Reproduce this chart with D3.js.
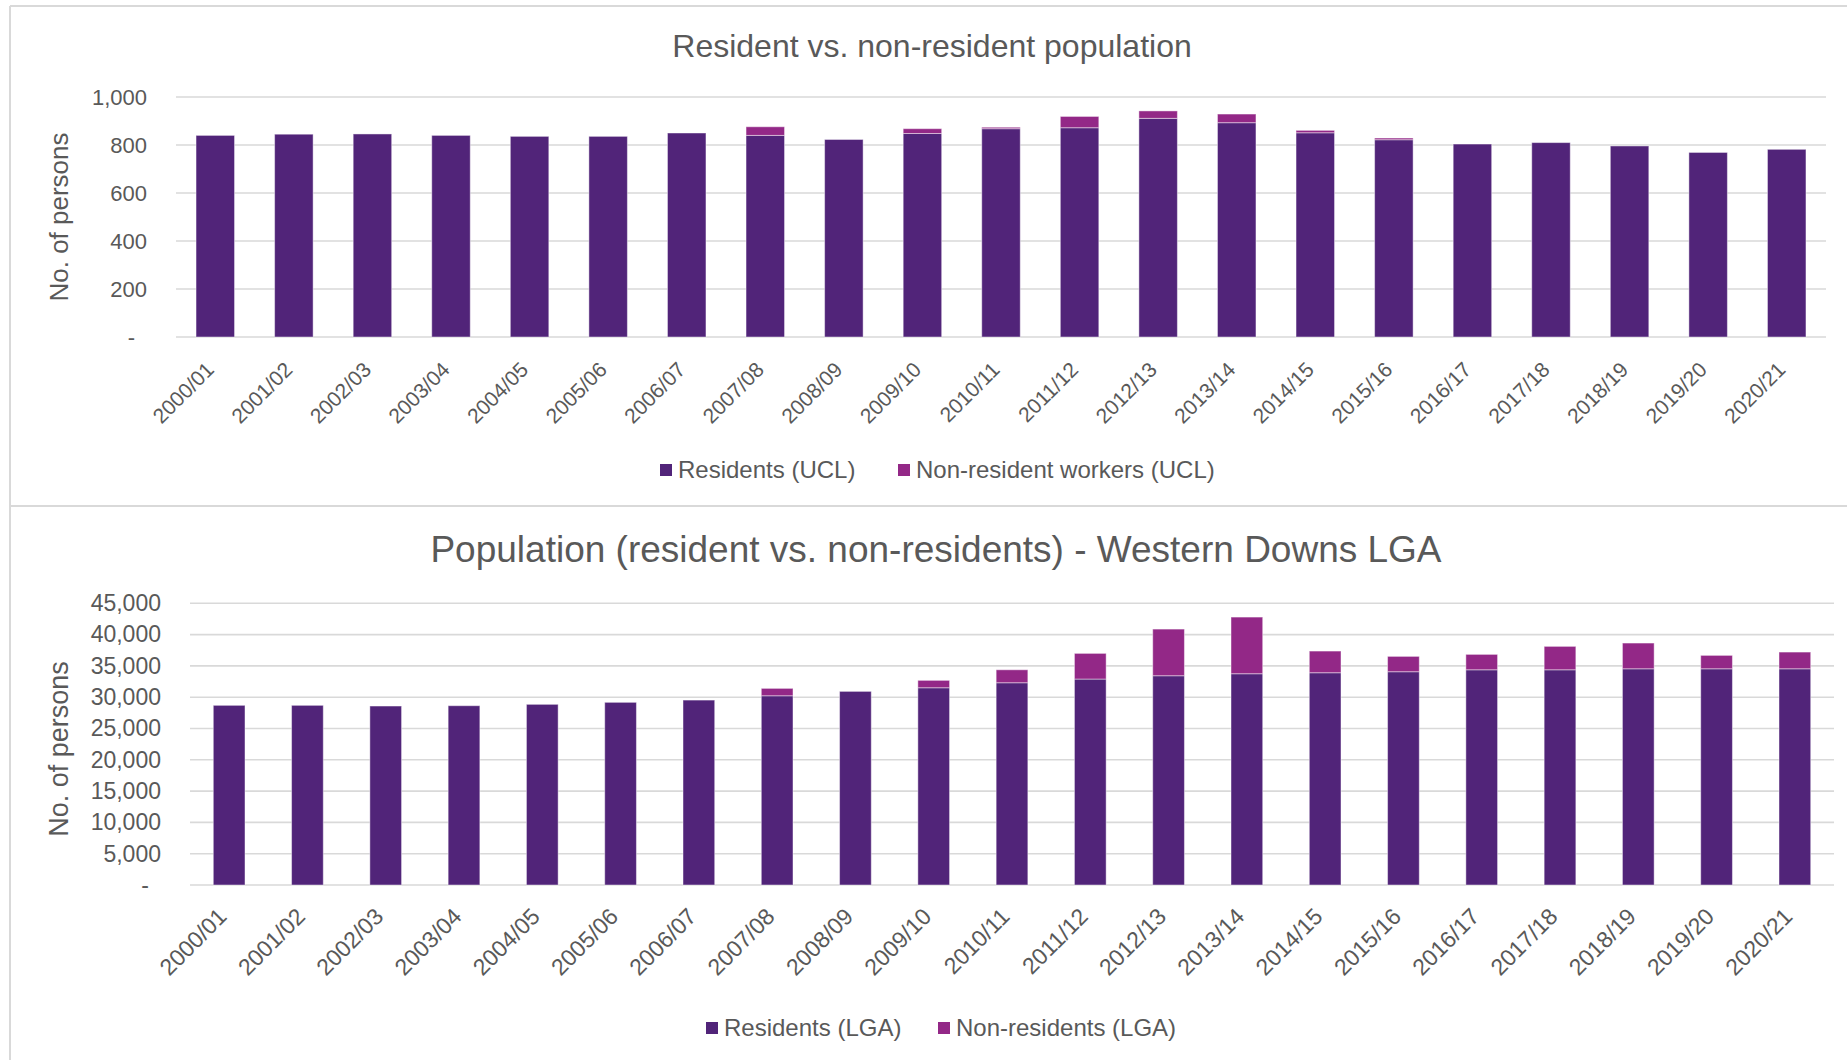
<!DOCTYPE html>
<html>
<head>
<meta charset="utf-8">
<script src="https://cdn.jsdelivr.net/npm/d3@7/dist/d3.min.js"></script>
<style>
  html, body { margin: 0; padding: 0; background: #fff; }
  svg { display: block; }
  text { font-family: "Liberation Sans", Arial, sans-serif; fill: #595959; }
</style>
</head>
<body>
<svg id="chart" width="1847" height="1060"></svg>
<script>
// ---------- DATA ----------
const categories = ["2000/01","2001/02","2002/03","2003/04","2004/05","2005/06","2006/07","2007/08","2008/09","2009/10","2010/11","2011/12","2012/13","2013/14","2014/15","2015/16","2016/17","2017/18","2018/19","2019/20","2020/21"];

const residentsUCL = [840,845,846,840,836,836,850,840,823,848,868,872,911,893,851,822,804,810,796,769,782];
const nonResidentWorkersUCL = [0,0,0,0,0,0,0,36,0,20,6,47,31,36,10,7,0,0,0,0,0];

const residentsLGA = [28700,28700,28590,28640,28860,29180,29540,30230,30930,31510,32310,32900,33430,33750,33910,34070,34380,34380,34540,34540,34540];
const nonResidentsLGA = [0,0,0,0,0,0,0,1180,0,1180,2070,4100,7450,9050,3460,2450,2460,3740,4110,2140,2670];

const ticksUCL = [0,200,400,600,800,1000];
const ticksLGA = [0,5000,10000,15000,20000,25000,30000,35000,40000,45000];

const seriesNamesUCL = ["Residents (UCL)","Non-resident workers (UCL)"];
const seriesNamesLGA = ["Residents (LGA)","Non-residents (LGA)"];
const titleUCL = "Resident vs. non-resident population";
const titleLGA = "Population (resident vs. non-residents) - Western Downs LGA";
const yAxisTitle = "No. of persons";

// ---------- STYLE ----------
const colors = ["#512479", "#932887"];
const gridColor = "#d9d9d9";
const svg = d3.select("#chart");

// panel borders
svg.append("line").attr("x1",10).attr("x2",1847).attr("y1",6).attr("y2",6).attr("stroke",gridColor).attr("stroke-width",2);
svg.append("line").attr("x1",10).attr("x2",10).attr("y1",6).attr("y2",1060).attr("stroke",gridColor).attr("stroke-width",2);
svg.append("line").attr("x1",10).attr("x2",1847).attr("y1",506).attr("y2",506).attr("stroke",gridColor).attr("stroke-width",2);

function drawChart(cfg) {
  const g = svg.append("g");
  const x = d3.scaleBand().domain(categories).range([cfg.x0, cfg.x1])
    .paddingInner(cfg.padInner).paddingOuter(cfg.padInner / 2);
  const y = d3.scaleLinear().domain([0, cfg.yMax]).range([cfg.yBottom, cfg.yTop]);

  // gridlines
  g.append("g").selectAll("line").data(cfg.ticks).join("line")
    .attr("x1", cfg.x0).attr("x2", cfg.x1)
    .attr("y1", d => y(d)).attr("y2", d => y(d))
    .attr("stroke", gridColor).attr("stroke-width", 1.6);

  // y axis labels
  const yAxis = d3.axisLeft(y).tickValues(cfg.ticks)
    .tickFormat(d => d === 0 ? "-" : d3.format(",")(d))
    .tickSize(0).tickPadding(0);
  const ya = g.append("g").attr("transform", `translate(${cfg.yLabelX},0)`).call(yAxis);
  ya.select(".domain").remove();
  ya.selectAll("text").attr("font-size", cfg.yTickSize).attr("fill", "#595959")
    .style("font-family", '"Liberation Sans", Arial, sans-serif')
    .attr("dx", d => d === 0 ? -12 : 0);

  // stacked bars
  const rows = categories.map((c, i) => ({cat: c, res: cfg.res[i], non: cfg.non[i]}));
  const stack = d3.stack().keys(["res", "non"])(rows);
  g.append("g").selectAll("g").data(stack).join("g")
    .attr("fill", (d, i) => colors[i])
    .selectAll("rect").data(d => d.filter(p => p[1] - p[0] > 0)).join("rect")
    .attr("x", d => x(d.data.cat))
    .attr("width", x.bandwidth())
    .attr("y", d => y(d[1]))
    .attr("height", d => y(d[0]) - y(d[1]))
    .attr("stroke", "rgba(255,255,255,0.45)").attr("stroke-width", 1);

  // x axis labels
  const xAxis = d3.axisBottom(x).tickSize(0).tickPadding(0);
  const xa = g.append("g").attr("transform", `translate(0,${cfg.yBottom})`).call(xAxis);
  xa.select(".domain").remove();
  xa.selectAll("text")
    .attr("font-size", cfg.xTickSize).attr("fill", "#595959")
    .style("font-family", '"Liberation Sans", Arial, sans-serif')
    .attr("text-anchor", "end")
    .attr("dy", 0).attr("y", 0)
    .attr("transform", `translate(${cfg.xLabelDx},${cfg.xLabelDy}) rotate(-45)`);

  // title
  g.append("text").attr("x", cfg.titleX).attr("y", cfg.titleY)
    .attr("text-anchor", "middle").attr("font-size", cfg.titleSize).text(cfg.title);

  // y axis title
  g.append("text").attr("transform", `translate(${cfg.yTitleX},${cfg.yTitleY}) rotate(-90)`)
    .attr("text-anchor", "middle").attr("dy", "0.35em")
    .attr("font-size", cfg.yTitleSize).text(yAxisTitle);

  // legend
  const lg = g.append("g");
  cfg.legendItems.forEach((it, i) => {
    lg.append("rect").attr("x", it.mx).attr("y", cfg.legendY - 6).attr("width", 12).attr("height", 12)
      .attr("fill", colors[i]);
    lg.append("text").attr("x", it.tx).attr("y", cfg.legendY).attr("dy", "0.35em")
      .attr("font-size", 24).text(cfg.names[i]);
  });
}

drawChart({
  x0: 176, x1: 1826, padInner: 0.51,
  yMax: 1000, yBottom: 337, yTop: 97, ticks: ticksUCL,
  yLabelX: 147, yTickSize: 22, xTickSize: 21, xLabelDx: 0, xLabelDy: 34,
  res: residentsUCL, non: nonResidentWorkersUCL,
  title: titleUCL, titleX: 932, titleY: 57, titleSize: 32,
  yTitleX: 59, yTitleY: 217, yTitleSize: 26,
  legendY: 470, names: seriesNamesUCL,
  legendItems: [{mx: 660, tx: 678}, {mx: 898, tx: 916}]
});

drawChart({
  x0: 190, x1: 1834, padInner: 0.595,
  yMax: 45000, yBottom: 885, yTop: 603.3, ticks: ticksLGA,
  yLabelX: 161, yTickSize: 23, xTickSize: 23, xLabelDx: -1, xLabelDy: 33,
  res: residentsLGA, non: nonResidentsLGA,
  title: titleLGA, titleX: 936, titleY: 562, titleSize: 37,
  yTitleX: 59, yTitleY: 749, yTitleSize: 27,
  legendY: 1028, names: seriesNamesLGA,
  legendItems: [{mx: 706, tx: 724}, {mx: 938, tx: 956}]
});
</script>
</body>
</html>
